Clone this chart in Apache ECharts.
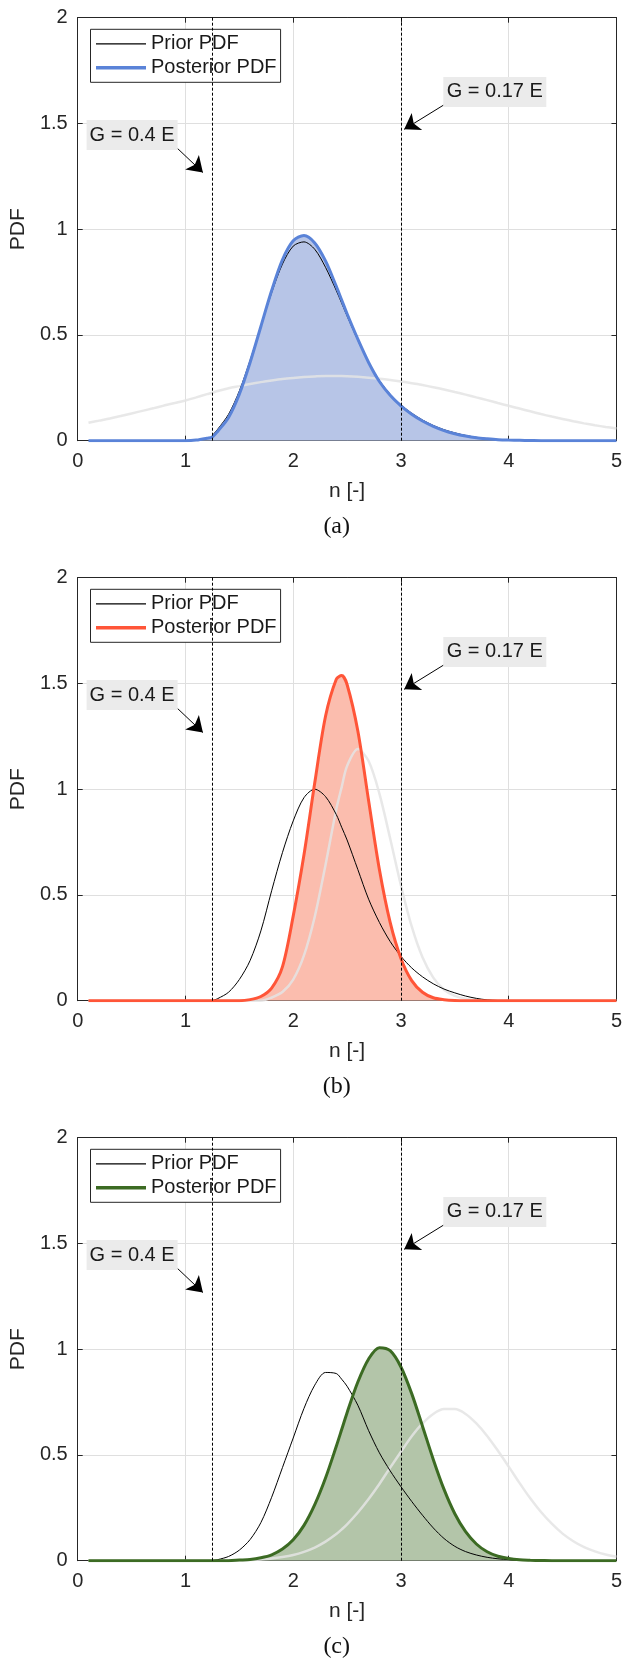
<!DOCTYPE html>
<html><head><meta charset="utf-8">
<script src="https://cdn.jsdelivr.net/npm/echarts@6/dist/echarts.min.js"></script>
<style>html,body{margin:0;padding:0;background:#fff}#c{width:625px;height:1658px}</style>
</head><body><div id="c"></div>
<script>
// ---------------- data ----------------
const _ = null;
const nValues = [0.1,0.2,0.3,0.4,0.5,0.6,0.7,0.8,0.9,1.0,1.1,1.2,1.25,1.3,1.4,1.5,1.6,1.7,1.8,1.9,2.0,2.1,2.2,2.3,2.4,2.45,2.5,2.6,2.7,2.8,2.9,3.0,3.1,3.2,3.3,3.4,3.5,3.6,3.7,3.8,3.9,4.0,4.1,4.2,4.3,4.4,4.5,4.6,4.7,4.8,4.9,5.0];

const priorA = [_,_,_,_,_,_,_,_,_,_,_,_,0.025,0.055,0.125,0.235,0.38,0.54,0.70,0.835,0.92,0.94,0.905,0.82,0.71,0.65,0.59,0.475,0.37,0.285,0.22,0.17,0.13,0.098,0.072,0.052,0.037,0.025,0.016,0.01,0.006,0.003,0.001,0,0,0,0,0,0,0,0,0];
const posteriorA = [0,0,0,0,0,0,0,0,0,0,0.003,0.012,0.018,0.045,0.11,0.22,0.37,0.54,0.71,0.855,0.945,0.97,0.935,0.85,0.73,0.665,0.60,0.48,0.37,0.28,0.215,0.165,0.125,0.093,0.068,0.048,0.033,0.022,0.014,0.009,0.005,0.003,0.002,0.001,0,0,0,0,0,0,0,0];
const likelihoodA = [0.085,0.095,0.105,0.117,0.129,0.141,0.153,0.166,0.178,0.19,0.205,0.22,0.227,0.235,0.248,0.258,0.268,0.277,0.285,0.292,0.297,0.301,0.304,0.306,0.306,0.306,0.305,0.302,0.298,0.293,0.287,0.28,0.272,0.263,0.253,0.242,0.23,0.218,0.205,0.192,0.178,0.165,0.152,0.139,0.126,0.114,0.103,0.092,0.082,0.073,0.065,0.058];

const priorB = [_,_,_,_,_,_,_,_,_,_,_,_,0,0.01,0.04,0.10,0.19,0.33,0.52,0.70,0.85,0.96,1.0,0.965,0.88,0.82,0.76,0.62,0.48,0.37,0.28,0.21,0.155,0.113,0.08,0.055,0.037,0.022,0.011,0.004,0.001,0,0,0,0,0,0,0,0,0,0,0];
const posteriorB = [0,0,0,0,0,0,0,0,0,0,0,0,0,0,0,0,0.005,0.02,0.06,0.16,0.40,0.69,1.03,1.345,1.52,1.537,1.495,1.275,0.945,0.62,0.37,0.2,0.095,0.04,0.014,0.005,0.001,0,0,0,0,0,0,0,0,0,0,0,0,0,0,0];
const likelihoodB = [0,0,0,0,0,0,0,0,0,0,0,0,0,0,0,0,0,0,0.015,0.041,0.10,0.214,0.397,0.642,0.905,1.01,1.11,1.19,1.133,0.979,0.767,0.545,0.351,0.205,0.109,0.052,0.023,0.009,0.003,0.001,0,0,0,0,0,0,0,0,0,0,0,0];

const priorC = [_,_,_,_,_,_,_,_,_,_,_,_,0,0.005,0.02,0.05,0.10,0.18,0.30,0.44,0.58,0.72,0.83,0.89,0.885,0.858,0.825,0.735,0.615,0.51,0.425,0.35,0.28,0.215,0.155,0.105,0.068,0.043,0.027,0.016,0.009,0.005,0.002,0.001,0,0,0,0,0,0,0,0];
const posteriorC = [0,0,0,0,0,0,0,0,0,0,0,0,0,0,0,0.003,0.006,0.014,0.028,0.055,0.099,0.167,0.265,0.391,0.541,0.62,0.70,0.845,0.954,1.007,0.993,0.916,0.79,0.636,0.479,0.337,0.222,0.137,0.079,0.042,0.021,0.01,0.004,0.002,0.001,0,0,0,0,0,0,0];
const likelihoodC = [0,0,0,0,0,0,0,0,0,0,0,0,0,0,0,0.001,0.003,0.006,0.01,0.017,0.027,0.042,0.062,0.09,0.126,0.148,0.172,0.228,0.292,0.363,0.44,0.515,0.588,0.649,0.694,0.717,0.717,0.694,0.649,0.59,0.52,0.445,0.368,0.295,0.23,0.175,0.128,0.092,0.064,0.044,0.029,0.019];

const panelLabels = ['(a)', '(b)', '(c)'];
const legendNames = ['Prior PDF', 'Posterior PDF'];
const thresholdLines = [1.25, 3];
const annotationTexts = ['G = 0.4 E', 'G = 0.17 E'];
const xAxisName = 'n [-]';
const yAxisName = 'PDF';

// ---------------- layout / style ----------------
const panels = [
  {prior: priorA, post: posteriorA, lik: likelihoodA, line: '#5a83d8', fill: '#b7c5e7'},
  {prior: priorB, post: posteriorB, lik: likelihoodB, line: '#ff5538', fill: '#fbbdae'},
  {prior: priorC, post: posteriorC, lik: likelihoodC, line: '#3c6b23', fill: '#b3c5a9'}
];
const gridTops = [17.7, 577.7, 1137.7];
const gridH = 423, gridLeft = 77.7, gridW = 543.3;
const axisColor = '#262626';
const FONT = 'Liberation Sans, Arial, Helvetica, sans-serif';
// annotation anchors (data coords)
const annot = [
  {text: annotationTexts[0], box: [0.505, 1.4454], size: [91, 30], from: [0.926, 1.382], to: [1.162, 1.268]},
  {text: annotationTexts[1], box: [3.871, 1.649], size: [103, 30], from: [3.396, 1.587], to: [3.03, 1.472]}
];

const pairs = arr => nValues.map((x, i) => [x, arr[i]]);

const grid = [], xAxis = [], yAxis = [], series = [], legend = [], graphic = [];
panels.forEach((p, i) => {
  const top = gridTops[i];
  grid.push({left: gridLeft, top: top, width: gridW, height: gridH, show: false});
  const baseX = {type: 'value', gridIndex: i, min: 0, max: 5, interval: 1,
    axisLine: {show: true, onZero: false, lineStyle: {color: axisColor, width: 1}},
    axisTick: {show: true, inside: true, length: 5, lineStyle: {color: axisColor}}};
  xAxis.push(Object.assign({}, baseX, {position: 'bottom',
    axisLabel: {color: axisColor, fontSize: 20, fontFamily: FONT, margin: 11},
    splitLine: {show: true, lineStyle: {color: '#dfdfdf', width: 1}},
    name: xAxisName, nameLocation: 'middle', nameGap: 40,
    nameTextStyle: {color: axisColor, fontSize: 21, fontFamily: FONT}}));
  xAxis.push(Object.assign({}, baseX, {position: 'top', axisLabel: {show: false}, splitLine: {show: false}}));
  const baseY = {type: 'value', gridIndex: i, min: 0, max: 2, interval: 0.5,
    axisLine: {show: true, onZero: false, lineStyle: {color: axisColor, width: 1}},
    axisTick: {show: true, inside: true, length: 5, lineStyle: {color: axisColor}}};
  yAxis.push(Object.assign({}, baseY, {position: 'left',
    axisLabel: {color: axisColor, fontSize: 20, fontFamily: FONT, margin: 10},
    splitLine: {show: true, lineStyle: {color: '#dfdfdf', width: 1}},
    name: yAxisName, nameLocation: 'middle', nameGap: 46,
    nameTextStyle: {color: axisColor, fontSize: 21, fontFamily: FONT}}));
  yAxis.push(Object.assign({}, baseY, {position: 'right', axisLabel: {show: false}, splitLine: {show: false}}));

  const ax = {xAxisIndex: 2 * i, yAxisIndex: 2 * i};
  const common = Object.assign({type: 'line', symbol: 'none', smooth: 0.3, silent: true, animation: false}, ax);
  series.push(Object.assign({}, common, {name: 'fill' + i, data: pairs(p.post), z: 1,
    lineStyle: {width: 0, color: p.fill}, itemStyle: {color: p.fill}, areaStyle: {color: p.fill, opacity: 1}}));
  series.push(Object.assign({}, common, {name: 'lik' + i, data: pairs(p.lik), z: 2,
    lineStyle: {width: 2.5, color: '#e4e4e4', opacity: 0.85}, itemStyle: {color: '#e4e4e4'}}));
  series.push(Object.assign({}, common, {name: legendNames[0] + '|' + i, data: pairs(p.prior), z: 3,
    lineStyle: {width: 1, color: '#000'}, itemStyle: {color: '#000'}}));
  series.push(Object.assign({}, common, {name: legendNames[1] + '|' + i, data: pairs(p.post), z: 4,
    lineStyle: {width: 3, color: p.line}, itemStyle: {color: p.line}}));
  // threshold dashed lines + annotation boxes
  series.push(Object.assign({}, common, {name: 'guides' + i, data: [], z: 5,
    markLine: {silent: true, animation: false, symbol: ['none', 'none'], label: {show: false},
      lineStyle: {color: '#000', width: 1, type: [3, 2]},
      data: thresholdLines.map(v => ({xAxis: v}))},
    markPoint: {silent: true, animation: false, symbol: 'rect',
      itemStyle: {color: '#ebebeb'},
      label: {show: true, position: 'inside', formatter: '{b}', color: '#1a1a1a', fontSize: 20, fontFamily: FONT},
      data: annot.map(a => ({name: a.text, coord: a.box, symbolSize: a.size}))}}));
  // arrows
  series.push(Object.assign({}, common, {name: 'arrows' + i, data: [], z: 6,
    markLine: {silent: true, animation: false, symbol: ['none', 'arrow'], symbolSize: 15, label: {show: false},
      lineStyle: {color: '#000', width: 1, type: 'solid'},
      data: annot.map(a => [{coord: a.from}, {coord: a.to}])}}));

  legend.push({
    orient: 'vertical', left: 90.5, top: top + 11.6,
    data: [
      {name: legendNames[0] + '|' + i, icon: 'path://M0 0H50V1.2H0Z'},
      {name: legendNames[1] + '|' + i, icon: 'path://M0 0H50V3.5H0Z'}
    ],
    formatter: n => n.split('|')[0],
    itemWidth: 50, itemHeight: 14, itemGap: 0,
    padding: [2.5, 4, 2.5, 5.5],
    backgroundColor: '#fff', borderColor: axisColor, borderWidth: 1, borderRadius: 0,
    selectedMode: false,
    textStyle: {color: '#1a1a1a', fontSize: 20, lineHeight: 24, fontFamily: FONT, padding: [0, 0, 0, 0]}
  });

  graphic.push({type: 'text', x: 336.7, y: top + gridH + 86,
    style: {text: panelLabels[i], fill: '#111', font: '24px "Liberation Serif", "Times New Roman", serif',
      align: 'center', verticalAlign: 'middle'}});
});

const chart = echarts.init(document.getElementById('c'), null, {renderer: 'canvas'});
chart.setOption({animation: false, backgroundColor: '#fff', grid, xAxis, yAxis, series, legend, graphic});
</script>
</body></html>
